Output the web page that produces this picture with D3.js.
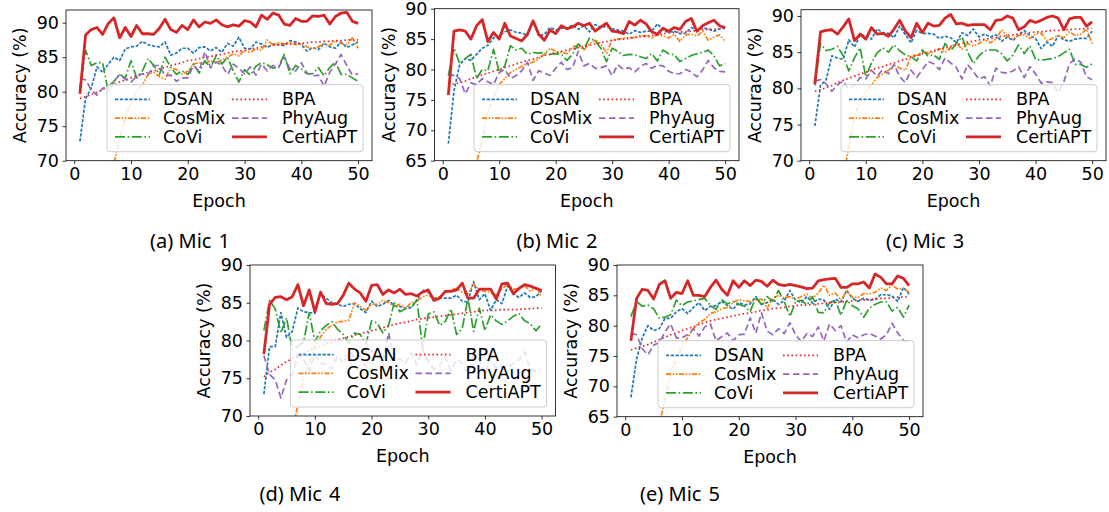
<!DOCTYPE html>
<html>
<head>
<meta charset="utf-8">
<script src="https://cdn.jsdelivr.net/npm/d3@7"></script>
<style>
  body { margin: 0; background: #fff; }
  svg { display: block; }
</style>
</head>
<body>
<svg id="chart" width="1109" height="512"></svg>
<script>
// ---- data: accuracy (%) per epoch for each microphone ----
const epochs = d3.range(1, 51);
const seriesNames = ["DSAN", "CosMix", "CoVi", "BPA", "PhyAug", "CertiAPT"];
const xTickValues = [0, 10, 20, 30, 40, 50];
const yTicksA = [70, 75, 80, 85, 90];
const yTicksB = [65, 70, 75, 80, 85, 90];
const panelLetters = ["(a)", "(b)", "(c)", "(d)", "(e)"];
const panelNames = ["Mic 1", "Mic 2", "Mic 3", "Mic 4", "Mic 5"];

// Mic 1
const dsan1 = [72.8,79.0,80.5,83.6,82.8,84.0,85.0,84.5,86.2,86.5,86.6,87.3,86.8,86.6,86.5,87.2,85.3,85.6,86.3,86.3,85.6,86.4,86.5,85.9,86.4,85.7,87.0,86.6,87.9,86.3,86.2,87.2,86.9,86.4,86.9,86.8,86.7,87.4,87.2,86.8,85.9,86.4,86.1,87.0,86.5,86.3,87.2,86.4,86.8,87.2];
const cosmix1 = [42.0,49.0,54.5,59.0,63.0,66.5,69.6,73.2,76.3,78.4,80.0,81.0,82.5,82.8,82.2,81.8,83.5,83.2,82.5,83.0,84.0,84.2,84.0,84.5,84.2,84.6,85.0,85.5,85.2,86.0,85.7,86.2,86.0,87.5,86.8,87.1,86.9,87.2,86.8,87.0,86.5,86.2,86.5,87.0,86.7,87.4,87.0,86.8,87.8,86.3];
const covi1 = [80.5,86.0,83.8,84.2,84.2,80.0,81.5,82.5,82.0,84.5,82.0,83.0,84.8,83.8,82.5,85.0,83.5,82.5,83.0,82.5,84.0,82.7,84.5,83.5,85.2,84.0,85.0,83.0,81.4,83.2,82.4,83.7,84.2,83.9,83.4,83.6,85.4,82.6,83.8,83.3,82.6,82.6,83.5,82.3,83.5,84.3,82.5,82.5,82.0,81.5];
const bpa1 = [79.0,79.3,79.6,79.9,80.3,80.7,81.0,81.4,81.7,82.0,82.3,82.5,82.8,83.0,83.3,83.5,83.8,84.0,84.2,84.5,84.6,84.8,85.0,85.1,85.3,85.4,85.6,85.8,85.9,86.0,86.2,86.3,86.5,86.6,86.7,86.8,86.9,86.9,87.0,87.0,87.1,87.2,87.2,87.3,87.3,87.4,87.4,87.5,87.5,87.5];
const phyaug1 = [82.0,81.7,80.3,79.5,80.5,80.8,81.5,82.5,81.8,81.4,82.2,82.6,82.4,83.8,83.8,82.3,82.4,81.5,82.0,82.0,83.8,83.0,85.8,83.5,84.3,83.8,82.5,84.0,83.4,82.6,83.6,82.4,84.0,83.0,83.8,83.5,85.0,83.3,83.0,84.2,82.7,82.3,82.4,80.8,82.8,84.0,85.4,83.8,82.4,82.6];
const certi1 = [79.7,88.2,89.0,89.3,88.3,89.9,90.7,87.8,89.3,88.0,89.6,88.4,88.4,88.3,89.2,90.5,89.0,88.6,89.6,89.0,90.4,89.4,90.1,89.9,90.4,89.7,89.4,89.7,89.5,90.3,90.1,89.4,91.1,90.5,91.4,91.1,89.8,89.6,90.6,90.2,90.2,91.0,90.9,91.1,89.8,90.9,91.4,91.5,90.2,89.9];

// Mic 2
const dsan2 = [67.8,76.5,80.8,81.8,81.5,82.5,83.5,84.0,85.2,85.5,86.2,86.5,86.1,86.0,85.6,88.0,85.5,85.8,86.9,86.5,86.8,86.8,87.3,86.6,87.2,86.2,87.4,86.9,87.1,86.7,86.5,86.3,85.8,86.4,86.1,86.3,86.3,87.5,86.5,86.1,86.3,85.9,86.0,86.9,86.5,86.8,86.7,86.3,86.7,86.8];
const cosmix2 = [40.0,47.0,52.0,57.0,61.0,64.5,68.5,73.0,75.5,77.5,78.5,79.5,80.0,80.5,81.0,81.2,81.8,82.5,83.5,83.0,82.8,82.6,83.7,84.0,83.2,84.3,84.8,84.2,82.7,84.9,85.0,85.1,85.3,85.2,85.6,85.5,85.2,85.7,85.5,85.2,85.8,84.6,85.7,85.8,85.5,86.3,84.8,85.3,85.7,84.6];
const covi2 = [79.0,83.5,81.0,81.8,82.5,78.5,80.0,79.8,83.3,79.6,80.6,83.9,83.2,83.5,82.5,82.8,82.7,82.8,82.5,82.6,82.5,81.5,82.5,84.2,83.4,85.2,84.7,83.5,81.3,83.5,83.0,82.3,82.5,82.4,82.1,81.8,82.6,81.4,83.2,82.6,82.4,81.3,81.8,82.3,82.6,82.8,83.2,82.3,80.6,81.0];
const bpa2 = [77.5,77.6,77.8,78.1,78.5,78.8,79.1,79.4,79.7,80.0,80.3,80.6,80.9,81.2,81.5,81.7,82.0,82.3,82.5,82.8,83.0,83.2,83.4,83.6,83.8,84.0,84.2,84.4,84.6,84.8,84.9,85.0,85.1,85.3,85.4,85.5,85.6,85.7,85.9,86.0,86.1,86.2,86.2,86.3,86.4,86.5,86.6,86.6,86.7,86.8];
const phyaug2 = [79.3,79.0,78.5,76.0,77.8,77.5,78.5,78.0,77.5,79.5,80.0,78.5,79.0,79.8,81.2,78.2,79.8,79.4,79.0,80.2,81.2,80.0,80.3,83.0,80.6,81.0,80.2,80.3,80.6,79.0,80.8,80.0,80.3,79.6,80.5,81.0,80.2,80.7,80.6,79.7,79.3,79.3,80.0,79.6,78.8,79.9,81.5,80.3,79.7,79.6];
const certi2 = [75.8,86.3,86.5,86.3,85.0,87.2,88.2,84.6,86.1,85.0,87.6,85.5,85.1,84.7,85.8,88.0,85.8,84.8,86.5,85.9,87.2,86.7,87.0,87.6,87.2,87.6,86.3,87.0,87.6,86.3,86.2,85.9,87.9,87.3,88.1,87.5,86.2,85.8,86.8,86.3,86.9,86.6,87.9,88.4,86.3,87.2,87.7,88.1,87.2,86.9];

// Mic 3
const dsan3 = [74.8,80.4,81.2,84.5,84.2,84.0,86.7,85.7,87.4,87.3,86.8,88.2,87.7,87.6,87.0,88.6,87.4,86.3,88.0,87.6,87.6,87.5,86.9,87.2,87.0,86.3,87.7,87.3,88.2,87.1,87.5,87.1,87.4,86.5,87.1,86.6,87.4,88.0,87.3,86.9,85.5,86.4,85.8,87.3,86.7,86.5,86.8,86.9,86.9,87.9];
const cosmix3 = [45.0,52.0,56.0,60.0,64.0,67.5,72.0,76.0,78.5,79.5,80.5,81.5,82.0,82.5,83.2,82.8,82.5,84.5,84.6,85.0,84.8,85.0,85.5,85.0,85.7,86.3,85.4,86.2,85.8,86.2,86.7,86.3,86.8,88.1,87.2,86.8,87.3,87.4,86.9,87.5,87.6,86.6,86.9,87.3,87.0,87.8,87.3,87.5,88.2,86.2];
const covi3 = [80.4,86.2,85.2,85.4,85.8,84.5,82.4,84.2,85.6,81.6,83.5,84.9,85.6,85.0,86.0,85.2,84.6,84.4,83.8,85.3,84.5,84.6,84.0,86.2,85.2,86.2,87.1,85.0,83.4,84.5,85.2,85.3,85.3,84.8,83.8,84.6,86.0,84.8,85.9,84.0,83.9,84.0,84.1,84.4,84.9,85.4,83.3,83.3,82.9,83.4];
const bpa3 = [79.6,79.8,80.1,80.4,80.8,81.1,81.4,81.7,82.0,82.2,82.5,82.8,83.0,83.3,83.5,83.8,84.0,84.3,84.5,84.8,85.0,85.2,85.4,85.6,85.8,86.0,86.2,86.4,86.5,86.7,86.8,86.9,87.0,87.2,87.3,87.4,87.5,87.6,87.7,87.8,87.8,87.9,88.0,88.0,88.1,88.1,88.2,88.2,88.3,88.3];
const phyaug3 = [81.0,81.2,80.6,79.6,80.5,81.0,79.8,80.5,81.5,81.3,82.5,81.7,82.6,82.0,83.3,81.6,80.8,82.5,81.5,82.6,83.7,83.4,82.6,84.2,83.5,82.9,81.3,83.3,82.3,81.3,81.6,80.3,82.8,82.2,82.1,82.4,83.0,81.5,83.0,82.0,80.7,80.9,80.8,79.4,80.9,83.4,84.1,83.6,81.6,81.2];
const certi3 = [80.6,87.8,88.0,88.1,87.5,88.5,89.6,86.6,87.5,86.8,88.4,87.5,87.6,87.2,88.2,89.4,87.9,87.0,89.0,87.7,89.0,88.6,88.7,89.7,90.2,88.9,89.0,88.7,88.8,88.8,88.8,88.1,89.4,89.5,90.0,89.7,88.1,88.5,89.4,89.1,89.4,89.8,90.0,89.7,88.1,89.6,89.8,89.8,88.6,89.2];

// Mic 4
const dsan4 = [72.9,79.2,79.2,83.7,80.4,81.2,84.3,83.8,83.7,83.6,86.2,85.6,85.0,84.8,84.5,84.8,84.9,84.2,83.7,85.2,84.5,84.8,85.3,84.6,84.5,84.3,84.4,85.3,86.7,86.4,85.6,85.6,85.6,85.6,86.0,85.2,85.1,87.8,85.4,86.2,84.0,85.4,84.9,87.2,86.2,85.7,86.3,85.7,85.8,86.6];
const cosmix4 = [45.0,52.0,57.0,61.0,65.0,68.0,71.5,75.0,77.0,79.2,80.5,81.5,82.0,82.5,82.5,82.7,85.0,84.5,84.0,84.8,84.8,85.3,85.0,84.5,84.8,84.3,85.0,85.2,85.8,86.0,85.6,85.8,86.4,86.7,86.9,86.4,86.2,87.5,86.7,86.5,86.4,86.0,86.8,87.5,86.8,86.8,87.3,86.5,87.0,85.8];
const covi4 = [81.3,85.3,84.2,81.0,83.0,78.8,79.2,79.8,83.7,79.8,81.3,82.0,82.5,81.5,80.8,79.7,81.0,80.8,79.5,82.6,82.3,81.0,82.0,85.0,83.8,84.2,84.3,85.4,79.0,83.5,83.8,82.0,82.5,84.2,80.8,81.6,85.6,81.2,84.3,81.3,83.4,82.6,82.1,82.6,83.2,83.6,82.6,82.2,81.3,82.2];
const bpa4 = [75.2,75.8,76.2,76.7,77.2,77.6,78.0,78.3,78.7,79.0,79.3,79.6,79.8,80.1,80.3,80.5,80.7,80.9,81.1,81.3,81.5,81.7,81.9,82.1,82.3,82.4,82.6,82.8,82.9,83.0,83.1,83.2,83.3,83.4,83.5,83.6,83.7,83.8,83.9,84.0,84.0,84.0,84.1,84.1,84.1,84.1,84.2,84.2,84.3,84.3];
const phyaug4 = [78.0,75.5,74.8,72.4,74.8,75.5,78.0,77.5,76.0,78.2,77.0,76.8,76.3,78.0,77.0,78.5,77.8,78.0,76.5,78.8,77.8,77.2,81.0,77.5,77.6,77.0,78.4,76.8,78.8,77.2,76.2,76.6,77.8,76.0,77.5,77.0,75.7,78.0,77.5,75.5,77.6,76.3,76.6,76.4,77.0,77.4,78.5,76.2,75.9,76.2];
const certi4 = [78.2,84.8,85.7,85.8,85.4,85.8,87.4,84.6,86.7,83.8,86.4,84.9,84.8,84.9,86.0,87.6,86.8,86.3,85.2,87.3,87.4,86.1,86.7,86.3,86.8,86.1,86.2,85.9,86.4,86.7,85.3,85.6,86.5,86.5,86.7,87.6,85.6,85.6,86.8,86.8,86.8,85.5,87.5,87.6,86.2,86.9,87.4,87.2,86.9,86.6];

// Mic 5
const dsan5 = [68.2,74.5,78.0,80.0,79.2,79.5,81.2,81.2,82.3,82.8,82.0,83.0,83.8,82.5,83.2,83.3,84.0,83.3,82.7,83.8,83.4,83.6,84.8,83.5,83.8,84.4,83.5,84.1,85.8,84.2,83.8,84.8,83.7,84.4,84.2,82.7,84.4,83.9,85.8,84.5,84.0,84.5,84.2,84.3,85.1,85.1,84.9,84.0,86.3,85.2];
const cosmix5 = [40.0,47.0,52.0,56.0,60.0,63.5,68.0,72.0,74.5,76.5,78.0,79.5,80.5,81.0,82.0,82.3,82.8,83.0,83.8,84.3,84.1,84.0,84.2,84.4,82.9,84.5,85.0,84.6,84.8,84.3,84.8,85.2,84.5,85.4,86.7,85.0,85.4,84.2,85.8,84.7,84.6,85.3,85.2,85.5,86.2,85.8,86.7,86.0,86.2,85.5];
const covi5 = [81.5,84.0,83.2,83.4,82.8,81.2,81.4,81.8,84.2,83.3,83.9,84.1,84.3,84.5,83.3,82.7,84.3,83.6,84.0,83.5,83.2,82.3,84.7,83.5,84.8,84.0,85.8,84.0,81.5,83.9,84.2,83.4,84.8,82.2,82.1,83.8,84.2,81.7,84.2,83.3,82.8,81.4,82.9,83.5,83.9,83.9,82.4,83.0,81.4,83.4];
const bpa5 = [76.0,76.3,76.6,76.9,77.3,77.7,78.1,78.5,78.8,79.2,79.5,79.8,80.2,80.5,80.8,81.0,81.2,81.4,81.6,81.8,82.0,82.1,82.3,82.5,82.6,82.8,82.9,83.0,83.2,83.3,83.4,83.4,83.5,83.6,83.7,83.8,83.8,83.9,84.0,84.1,84.2,84.2,84.3,84.4,84.5,84.5,84.6,84.7,84.7,84.8];
const phyaug5 = [78.8,78.5,76.2,75.2,76.8,77.2,79.0,80.3,78.0,78.0,78.5,79.5,78.3,79.8,80.3,77.5,78.2,78.8,77.5,78.5,78.6,81.3,78.8,82.1,79.1,78.5,79.5,78.7,80.5,78.5,77.4,78.7,78.2,79.8,77.5,80.3,79.2,80.0,77.3,78.5,78.0,78.5,78.7,78.3,77.8,78.5,80.4,78.8,77.6,77.3];
const certi5 = [77.5,84.5,86.0,85.8,84.4,86.8,87.4,84.5,85.5,85.3,87.4,85.0,85.0,84.8,86.3,87.5,86.0,85.0,87.4,86.3,87.4,86.6,87.5,87.3,86.5,87.5,86.8,86.6,86.8,86.6,86.4,86.1,86.2,87.4,87.6,87.7,87.8,86.3,86.3,86.9,86.9,87.2,86.2,88.5,88.0,86.9,86.9,88.2,87.8,86.6];

// ---- styling ----
const seriesStyle = {
  DSAN:     { color: "#1f77b4", width: 1.7, dash: "3.2,1.6" },
  CosMix:   { color: "#ff7f0e", width: 1.7, dash: "5,1.6,1.6,1.6,1.6,1.6" },
  CoVi:     { color: "#2ca02c", width: 1.7, dash: "10,2.6,1.6,2.6" },
  BPA:      { color: "#e8262a", width: 1.7, dash: "1.6,2.6" },
  PhyAug:   { color: "#9467bd", width: 1.7, dash: "6.5,3.5" },
  CertiAPT: { color: "#d62728", width: 2.8, dash: null }
};

const panels = [
  { series: [dsan1, cosmix1, covi1, bpa1, phyaug1, certi1], yDomain: [70, 91.84], yTicks: yTicksA,
    left: 66, right: 372, top: 10, bottom: 160.7, capX: 190, capY: 247.5 },
  { series: [dsan2, cosmix2, covi2, bpa2, phyaug2, certi2], yDomain: [65, 90], yTicks: yTicksB,
    left: 434.5, right: 739, top: 8.7, bottom: 160.7, capX: 557, capY: 247.5 },
  { series: [dsan3, cosmix3, covi3, bpa3, phyaug3, certi3], yDomain: [70, 90.87], yTicks: yTicksA,
    left: 801, right: 1106, top: 9.7, bottom: 160.7, capX: 925, capY: 247.5 },
  { series: [dsan4, cosmix4, covi4, bpa4, phyaug4, certi4], yDomain: [70, 90], yTicks: yTicksA,
    left: 250, right: 555.5, top: 265, bottom: 416, capX: 300, capY: 500.5 },
  { series: [dsan5, cosmix5, covi5, bpa5, phyaug5, certi5], yDomain: [65, 90], yTicks: yTicksB,
    left: 617, right: 923, top: 265, bottom: 416.7, capX: 680, capY: 500.5 }
];

const FONT = "'DejaVu Sans', sans-serif";
const FS = 17.5;
const svg = d3.select("#chart");

panels.forEach((p, pi) => {
  const x = d3.scaleLinear().domain([-1.45, 52.45]).range([p.left, p.right]);
  const y = d3.scaleLinear().domain(p.yDomain).range([p.bottom, p.top]);
  const g = svg.append("g");

  const clipId = "clip" + pi;
  g.append("clipPath").attr("id", clipId)
    .append("rect")
    .attr("x", p.left).attr("y", p.top)
    .attr("width", p.right - p.left).attr("height", p.bottom - p.top);

  // series lines
  const line = d3.line().x((d, i) => x(epochs[i])).y(d => y(d));
  const lines = g.append("g").attr("clip-path", `url(#${clipId})`);
  seriesNames.forEach((name, si) => {
    const st = seriesStyle[name];
    lines.append("path")
      .datum(p.series[si])
      .attr("d", line)
      .attr("fill", "none")
      .attr("stroke", st.color)
      .attr("stroke-width", st.width)
      .attr("stroke-linejoin", "round")
      .attr("stroke-dasharray", st.dash);
  });

  // axes
  const xAxis = d3.axisBottom(x).tickValues(xTickValues).tickFormat(d3.format("d"))
    .tickSize(3.5).tickPadding(3.5);
  const yAxis = d3.axisLeft(y).tickValues(p.yTicks).tickFormat(d3.format("d"))
    .tickSize(3.5).tickPadding(3.5);

  const gx = g.append("g").attr("transform", `translate(0,${p.bottom})`).call(xAxis);
  const gy = g.append("g").attr("transform", `translate(${p.left},0)`).call(yAxis);
  [gx, gy].forEach(ax => {
    ax.select(".domain").remove();
    ax.selectAll(".tick line").attr("stroke", "#000").attr("stroke-width", 0.8);
    ax.selectAll(".tick text").attr("fill", "#000")
      .style("font-family", FONT).style("font-size", FS + "px");
  });

  // frame
  g.append("rect")
    .attr("x", p.left).attr("y", p.top)
    .attr("width", p.right - p.left).attr("height", p.bottom - p.top)
    .attr("fill", "none").attr("stroke", "#000").attr("stroke-width", 0.8);

  // axis labels
  g.append("text")
    .attr("x", (p.left + p.right) / 2).attr("y", p.bottom + 46)
    .attr("text-anchor", "middle")
    .style("font-family", FONT).style("font-size", FS + "px")
    .text("Epoch");
  g.append("text")
    .attr("transform", `translate(${p.left - 46},${(p.top + p.bottom) / 2}) rotate(-90)`)
    .attr("text-anchor", "middle")
    .attr("dominant-baseline", "central")
    .style("font-family", FONT).style("font-size", FS + "px")
    .text("Accuracy (%)");

  // legend (two columns, lower right)
  const lw = 256, lh = 67;
  const lg = g.append("g")
    .attr("transform", `translate(${p.right - 9 - lw},${p.bottom - 9 - lh})`);
  lg.append("rect")
    .attr("x", 0).attr("y", 0).attr("width", lw).attr("height", lh)
    .attr("rx", 3).attr("ry", 3)
    .attr("fill", "#fff").attr("fill-opacity", 0.8)
    .attr("stroke", "#cccccc").attr("stroke-width", 1);
  seriesNames.forEach((name, si) => {
    const col = Math.floor(si / 3), row = si % 3;
    const hx0 = col === 0 ? 8 : 125;
    const tx = col === 0 ? 56 : 175;
    const ry = 14.7 + row * 18.7;
    const st = seriesStyle[name];
    lg.append("line")
      .attr("x1", hx0).attr("x2", hx0 + 35).attr("y1", ry).attr("y2", ry)
      .attr("stroke", st.color).attr("stroke-width", st.width)
      .attr("stroke-dasharray", st.dash);
    lg.append("text")
      .attr("x", tx).attr("y", ry)
      .attr("dominant-baseline", "central")
      .style("font-family", FONT).style("font-size", FS + "px")
      .text(name);
  });

  // panel caption: "(x) Mic n" with a wider gap before the number
  const [micWord, micNum] = panelNames[pi].split(" ");
  const cap = svg.append("text")
    .attr("x", p.capX).attr("y", p.capY)
    .attr("text-anchor", "middle")
    .style("font-family", "'Noto Sans', sans-serif").style("font-size", "20px");
  cap.append("tspan").text(panelLetters[pi] + " " + micWord);
  cap.append("tspan").attr("dx", 7).text(micNum);
});
</script>
</body>
</html>
